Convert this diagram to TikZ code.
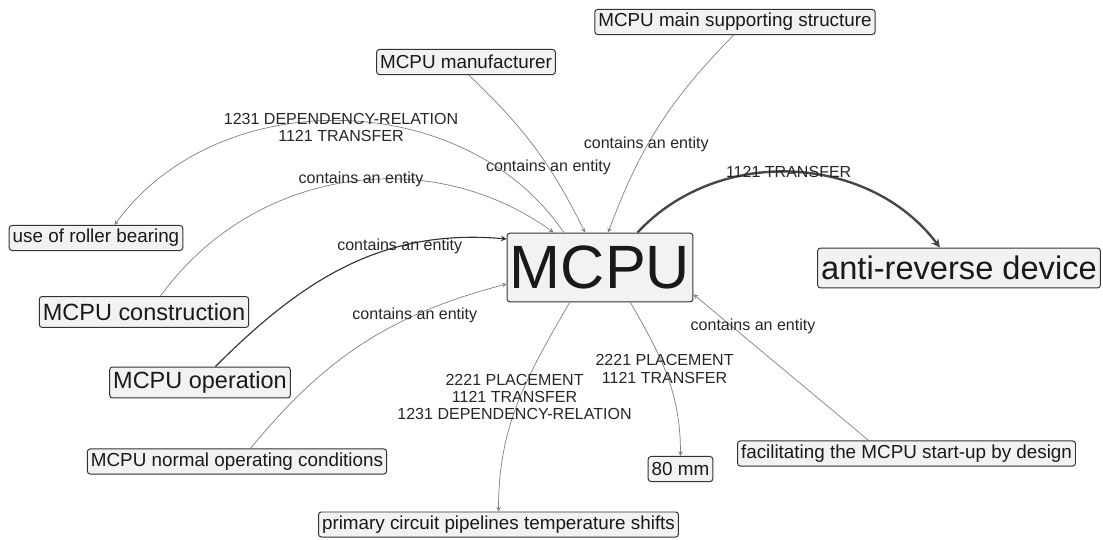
\documentclass[tikz,border=0pt]{standalone}
\usepackage{fontspec}
\setmainfont{Liberation Sans}

\begin{document}
\begin{tikzpicture}[%
    x=0.025cm,
    y=-0.025cm,
    >=stealth,
    ent/.style={draw=black!80, fill=black!5, rounded corners=2pt,
      line width=0.7pt, inner xsep=2.5pt, inner ysep=0pt, text=black!90},
    ent small/.style={ent, minimum height=17.8pt, font=\fontsize{13.4}{14}\selectfont},
    ent medium/.style={ent, minimum height=22pt, font=\fontsize{16.7}{18}\selectfont},
    ent large/.style={ent, minimum height=28.4pt, font=\fontsize{23.2}{25}\selectfont},
    ent huge/.style={ent, minimum height=49pt, inner xsep=2pt, font=\fontsize{43.5}{46}\selectfont},
    rel/.style={font=\fontsize{11.4}{12.1}\selectfont, text=black!85, inner sep=0pt, align=center},
    link/.style={draw=black!50, line width=0.5pt},
    strong/.style={draw=black!80, line width=0.8pt},
    heavy/.style={draw=black!72, line width=1.7pt}
  ]

  \useasboundingbox (0,0) rectangle (1103,539);

  \node[ent huge]   (mcpu)    at (600,267.5) {MCPU};
  \node[ent large]  (anti)    at (959,268)   {anti-reverse device};
  \node[ent small]  (support) at (735,22)    {MCPU main supporting structure};
  \node[ent small]  (manuf)   at (466,62)    {MCPU manufacturer};
  \node[ent small]  (roller)  at (96,238)    {use of roller bearing};
  \node[ent medium] (constr)  at (144,312)   {MCPU construction};
  \node[ent medium] (oper)    at (200,382.5) {MCPU operation};
  \node[ent small]  (normal)  at (237,461.5) {MCPU normal operating conditions};
  \node[ent small]  (pipes)   at (498.5,524.5) {primary circuit pipelines temperature shifts};
  \node[ent small]  (mm)      at (680.5,469) {80 mm};
  \node[ent small]  (facil)   at (906.5,453.5) {facilitating the MCPU start-up by design};

  \path[->]
              (manuf.-78)   edge [link, bend left=10]   node[rel, pos=0.63] {contains an entity} (mcpu.113)
              (support.-96) edge [link, bend right=12]  node[rel, pos=0.6, xshift=-1pt] {contains an entity} (mcpu.77)
              (mcpu.43)     edge [heavy, bend left=50]  node[rel, pos=0.49] {1121 TRANSFER} (anti.133)
              (mcpu.136)    edge [link, bend right=55]  node[rel, pos=0.5, yshift=-5pt] {1231 DEPENDENCY-RELATION\\1121 TRANSFER} (roller.35)
              (constr.44)   edge [link, bend left=45]   node[rel, pos=0.54, yshift=1pt] {contains an entity} (mcpu.143)
              (oper.46)     edge [strong, out=45, in=175] node[rel, pos=0.68] {contains an entity} (mcpu.163)
              (normal.44)   edge [link, bend left=18]   node[rel, pos=0.7] {contains an entity} (mcpu.190)
              (mcpu.229)    edge [link, out=240, in=90] node[rel, pos=0.47, xshift=-4pt] {2221 PLACEMENT\\1121 TRANSFER\\1231 DEPENDENCY-RELATION} (pipes.north)
              (mcpu.311)    edge [link, out=-60, in=90] node[rel, pos=0.45] {2221 PLACEMENT\\1121 TRANSFER} (mm.north)
              (facil.161)   edge [link]                 node[rel, pos=0.78, xshift=15pt] {contains an entity} (mcpu.-16);
\end{tikzpicture}
\end{document}
